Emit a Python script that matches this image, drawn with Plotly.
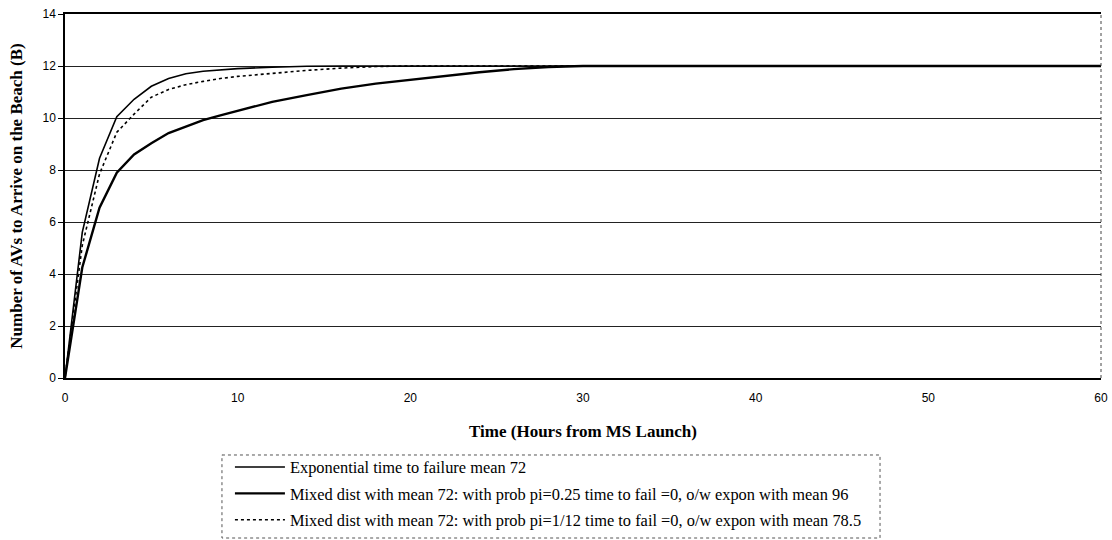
import plotly.graph_objects as go

# Time (hours from MS launch)
t_hours = [0, 1, 2, 3, 4, 5, 6, 7, 8, 9, 10, 12, 14, 16, 18, 20, 22, 24, 26, 28, 30, 35, 40, 45, 50, 55, 60]

# Exponential time to failure mean 72 (fastest curve)
exp_mean72 = [0, 5.6, 8.45, 10.05, 10.72, 11.22, 11.52, 11.7, 11.8, 11.86, 11.9, 11.95, 11.99, 12, 12, 12, 12, 12, 12, 12, 12, 12, 12, 12, 12, 12, 12]

# Mixed dist pi=0.25 (slowest curve)
mixed_pi025 = [0, 4.25, 6.55, 7.9, 8.6, 9.03, 9.42, 9.68, 9.92, 10.1, 10.28, 10.62, 10.88, 11.13, 11.32, 11.47, 11.62, 11.76, 11.88, 11.96, 12, 12, 12, 12, 12, 12, 12]

# Mixed dist pi=1/12 (dotted, middle curve)
mixed_pi112 = [0, 5.1, 7.85, 9.45, 10.15, 10.8, 11.1, 11.28, 11.41, 11.52, 11.6, 11.72, 11.83, 11.92, 11.98, 12, 12, 12, 12, 12, 12, 12, 12, 12, 12, 12, 12]

names = [
    "Exponential time to failure mean 72",
    "Mixed dist with mean 72: with prob pi=0.25 time to fail =0, o/w expon with mean 96",
    "Mixed dist with mean 72: with prob pi=1/12 time to fail =0, o/w expon with mean 78.5",
]

fig = go.Figure()
fig.add_trace(go.Scatter(x=t_hours, y=exp_mean72, mode="lines", name=names[0],
                         legendgroup="a", line=dict(color="black", width=1.6)))
fig.add_trace(go.Scatter(x=t_hours, y=mixed_pi025, mode="lines", name=names[1],
                         legendgroup="b", line=dict(color="black", width=2.4)))
fig.add_trace(go.Scatter(x=t_hours, y=mixed_pi112, mode="lines", name=names[2],
                         legendgroup="c", line=dict(color="black", width=1.6, dash="dot")))

fig.update_layout(
    width=1112, height=540,
    margin=dict(l=65, r=11, t=14, b=162, autoexpand=False),
    paper_bgcolor="white", plot_bgcolor="white",
    font=dict(family="Liberation Serif", color="black"),
    showlegend=True,
    legend=dict(
        x=0.1592, y=-0.1975, xanchor="left", yanchor="top",
        font=dict(family="Liberation Serif", size=16.4, color="black"),
        bgcolor="rgba(0,0,0,0)", borderwidth=0,
        tracegroupgap=2, itemwidth=50,
    ),
    xaxis=dict(
        range=[0, 60], dtick=10, tick0=0, automargin=False,
        showgrid=False, zeroline=False,
        showline=True, linecolor="black", linewidth=1.5, mirror=True,
        ticks="", ticklabelstandoff=8, ticklabeloverflow="allow",
        tickfont=dict(family="Liberation Sans", size=12, color="black"),
        title=dict(text="<b>Time (Hours from MS Launch)</b>",
                   font=dict(family="Liberation Serif", size=17, color="black"),
                   standoff=21),
    ),
    yaxis=dict(
        range=[0, 14], dtick=2, tick0=0, automargin=False,
        showgrid=True, gridcolor="#222222", gridwidth=1,
        zeroline=False,
        showline=True, linecolor="black", linewidth=1.5,
        ticks="outside", ticklen=5, tickcolor="black", ticklabeloverflow="allow",
        tickfont=dict(family="Liberation Sans", size=12, color="black"),
        title=dict(text="<b>Number of AVs to Arrive on the Beach (B)</b>",
                   font=dict(family="Liberation Serif", size=17, color="black"),
                   standoff=16),
    ),
    shapes=[
        # right border of plot area
        dict(type="line", xref="paper", yref="paper", x0=1, x1=1, y0=0, y1=1,
             line=dict(color="#444444", width=1, dash="dot")),
        # legend frame
        dict(type="rect", xref="paper", yref="paper",
             x0=0.1515, x1=0.7867, y0=-0.2115, y1=-0.4396,
             line=dict(color="#555555", width=1, dash="dot")),
    ],
)

fig.write_html("out.html",
               config={"displayModeBar": False},
               post_script="document.body.style.margin='0px';document.body.style.overflow='hidden';")
